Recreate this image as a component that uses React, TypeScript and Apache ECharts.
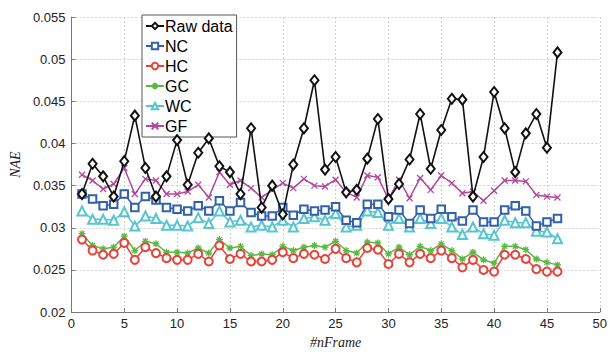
import React, { useEffect, useRef } from "react";
import * as echarts from "echarts";

const frames: number[] = Array.from({ length: 46 }, (_, i) => i + 1);

const rawData = [0.0340,0.0376,0.0361,0.0337,0.0379,0.0433,0.0371,0.0337,0.0361,0.0404,
  0.0351,0.0389,0.0406,0.0373,0.0366,0.0340,0.0418,0.0324,0.0350,0.0316,
  0.0375,0.0418,0.0475,0.0369,0.0384,0.0342,0.0345,0.0382,0.0429,0.0334,
  0.0352,0.0381,0.0435,0.0370,0.0416,0.0453,0.0452,0.0337,0.0384,0.0461,
  0.0418,0.0366,0.0412,0.0435,0.0395,0.0508];
const ncData = [0.0340,0.0334,0.0326,0.0328,0.0340,0.0324,0.0337,0.0333,0.0324,0.0322,0.0320,
  0.0326,0.0320,0.0332,0.0320,0.0330,0.0318,0.0314,0.0314,0.0324,0.0315,0.0322,
  0.0320,0.0321,0.0325,0.0309,0.0306,0.0328,0.0328,0.0313,0.0321,0.0305,0.0321,
  0.0311,0.0322,0.0313,0.0308,0.0321,0.0307,0.0307,0.0321,0.0326,0.0320,0.0302,0.0307,0.0311];
const hcData = [0.0286,0.0273,0.0268,0.0269,0.0282,0.0262,0.0277,0.0270,0.0264,0.0262,0.0262,
  0.0269,0.0260,0.0279,0.0263,0.0269,0.0260,0.0260,0.0262,0.0271,0.0264,0.0269,
  0.0268,0.0263,0.0275,0.0264,0.0259,0.0276,0.0274,0.0257,0.0269,0.0259,0.0269,
  0.0264,0.0273,0.0264,0.0253,0.0262,0.0250,0.0248,0.0268,0.0268,0.0263,0.0251,0.0248,0.0248];
const gcData = [0.0293,0.0279,0.0275,0.0277,0.0290,0.0273,0.0284,0.0281,0.0271,0.0271,0.0270,
  0.0276,0.0270,0.0286,0.0276,0.0278,0.0267,0.0269,0.0268,0.0278,0.0273,0.0277,
  0.0279,0.0277,0.0284,0.0273,0.0270,0.0283,0.0282,0.0269,0.0277,0.0268,0.0278,
  0.0273,0.0281,0.0273,0.0263,0.0271,0.0262,0.0258,0.0278,0.0278,0.0274,0.0263,0.0259,0.0256];
const wcData = [0.0320,0.0310,0.0310,0.0309,0.0319,0.0302,0.0314,0.0311,0.0303,0.0303,0.0302,
  0.0312,0.0305,0.0320,0.0307,0.0309,0.0301,0.0303,0.0301,0.0309,0.0301,0.0311,
  0.0313,0.0309,0.0317,0.0301,0.0303,0.0320,0.0318,0.0303,0.0311,0.0301,0.0311,
  0.0305,0.0311,0.0301,0.0292,0.0301,0.0293,0.0291,0.0309,0.0306,0.0306,0.0296,0.0295,0.0287];
const gfData = [0.0363,0.0356,0.0346,0.0352,0.0371,0.0340,0.0358,0.0356,0.0340,0.0340,0.0343,
  0.0351,0.0336,0.0366,0.0351,0.0356,0.0347,0.0336,0.0345,0.0353,0.0347,0.0358,
  0.0350,0.0349,0.0357,0.0342,0.0336,0.0362,0.0360,0.0334,0.0357,0.0335,0.0359,
  0.0345,0.0362,0.0353,0.0341,0.0343,0.0332,0.0344,0.0356,0.0356,0.0355,0.0339,0.0337,0.0336];

const seriesNames = ["Raw data", "NC", "HC", "GC", "WC", "GF"];

const ASTERISK = "path://M0,5L10,5M5,0L5,10M1.5,1.5L8.5,8.5M8.5,1.5L1.5,8.5";
const CROSS = "path://M0,0L10,10M10,0L0,10";

export default function App() {
  const ref = useRef<HTMLDivElement>(null);
  useEffect(() => {
    if (!ref.current) return;
    const chart = echarts.init(ref.current, null, { renderer: "svg" });
    const pair = (arr: number[]) => frames.map((f, i) => [f, arr[i]]);
    const mk = (
      name: string,
      data: number[],
      color: string,
      symbol: string,
      size: number | number[],
      z: number,
      lineWidth = 1.5,
      bw = 1.4
    ) => ({
      name,
      type: "line",
      data: pair(data),
      symbol,
      symbolSize: size,
      z,
      lineStyle: { color, width: lineWidth },
      itemStyle: { color, borderColor: color, borderWidth: bw },
    });
    chart.setOption({
      animation: false,
      backgroundColor: "#fff",
      grid: { left: 67, right: 10, top: 17, bottom: 30 },
      legend: {
        data: seriesNames,
        orient: "vertical",
        left: 142,
        top: 15,
        padding: [2, 4, 2, 3],
        itemGap: 2,
        itemWidth: 18,
        itemHeight: 8,
        backgroundColor: "#fff",
        borderColor: "#555",
        borderWidth: 1,
        textStyle: { fontSize: 16, lineHeight: 18, color: "#000", fontFamily: "Liberation Sans, Arial, sans-serif", padding: [0, 0, 0, -4] },
      },
      xAxis: {
        type: "value",
        min: 0,
        max: 50,
        interval: 5,
        name: "#nFrame",
        nameLocation: "middle",
        nameGap: 22,
        nameTextStyle: { fontFamily: "Liberation Serif, Times New Roman, serif", fontStyle: "italic", fontSize: 14, color: "#222" },
        axisLine: { lineStyle: { color: "#777", width: 1 } },
        axisTick: { inside: true, length: 4, lineStyle: { color: "#777" } },
        axisLabel: { fontSize: 13, color: "#222", margin: 5, fontFamily: "Liberation Sans, Arial, sans-serif" },
        splitLine: { show: true, lineStyle: { color: "#d0d0d0", type: [2, 2], width: 1 } },
      },
      yAxis: {
        type: "value",
        min: 0.02,
        max: 0.055,
        interval: 0.005,
        name: "NAE",
        nameLocation: "middle",
        nameGap: 44,
        nameRotate: 90,
        nameTextStyle: { fontFamily: "Liberation Serif, Times New Roman, serif", fontStyle: "italic", fontSize: 14, color: "#222" },
        axisLine: { show: true, lineStyle: { color: "#777", width: 1 } },
        axisTick: { show: true, inside: true, length: 4, lineStyle: { color: "#777" } },
        axisLabel: {
          fontSize: 13,
          color: "#222",
          margin: 6,
          fontFamily: "Liberation Sans, Arial, sans-serif",
          formatter: (v: number) => String(+v.toFixed(3)),
        },
        splitLine: { show: true, lineStyle: { color: "#d0d0d0", type: [2, 2], width: 1 } },
      },
      series: [
        mk("GF", gfData, "#b4479b", CROSS, 6, 2, 1.5, 1.3),
        mk("WC", wcData, "#55c5d0", "emptyTriangle", 9, 3),
        mk("GC", gcData, "#5cb846", ASTERISK, 7, 4, 1.5, 1.3),
        mk("HC", hcData, "#e8433b", "emptyCircle", 8, 5),
        mk("NC", ncData, "#3260aa", "emptyRect", 7.5, 6),
        mk("Raw data", rawData, "#111", "emptyDiamond", [8, 10], 7, 1.6),
      ],
    });
    return () => chart.dispose();
  }, []);
  return <div ref={ref} style={{ position: "fixed", left: 0, top: 0, width: 610, height: 354 }} />;
}
